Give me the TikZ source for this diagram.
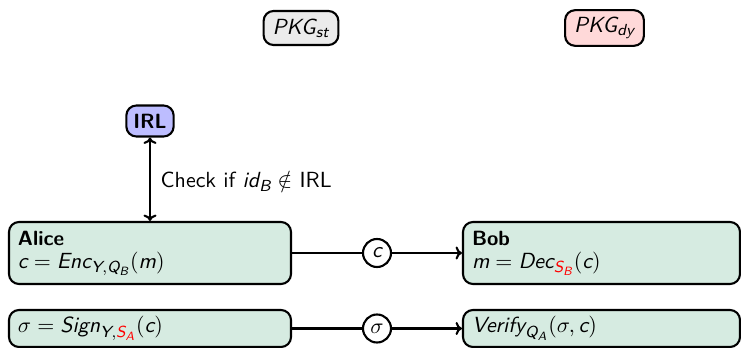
\documentclass[tikz,border=0pt]{standalone}
\usepackage{amsmath}
\usepackage{fontspec}
\usetikzlibrary{arrows.meta}

% sans italic letters for the formulas
\newcommand{\vi}[1]{\textsf{\itshape #1}}
% body size used in all nodes
\newcommand{\bodysize}{\fontsize{10.95}{11.5}\selectfont}
% party names, set a little smaller in bold
\newcommand{\who}[1]{{\fontsize{10.3}{11.5}\selectfont\bfseries #1}}

\definecolor{partyfill}{HTML}{D6EBE1}
\definecolor{stfill}{HTML}{EBEBEB}
\definecolor{dyfill}{HTML}{FFD9D9}
\definecolor{irlfill}{HTML}{BDBDFF}

\tikzset{
  base/.style={draw, line width=1.05pt, rounded corners=5pt, font=\sffamily\bodysize},
  pkg/.style={base, inner xsep=4.5pt, minimum height=17pt},
  party/.style={base, fill=partyfill, align=left, inner xsep=4.5pt, inner ysep=0pt,
                text width=132pt, minimum width=141pt},
  msg/.style={circle, draw, line width=1.05pt, fill=white, inner sep=0.5pt,
              minimum size=14pt, font=\sffamily\bodysize},
  tip/.tip={To[length=3.2pt,width=6.5pt]},
  link/.style={line width=1.05pt, -tip},
}

\begin{document}
\begin{tikzpicture}[x=0.5pt, y=-0.5pt]
  \useasboundingbox (0,0) rectangle (741,348);

  % key generation centres
  \node[pkg, fill=stfill] (pkgst) at (301,28) {$\vi{PKG}_{\vi{st}}$};
  \node[pkg, fill=dyfill] (pkgdy) at (604.5,28) {$\vi{PKG}_{\vi{dy}}$};

  % revocation list
  \node[base, fill=irlfill, inner xsep=3.5pt, minimum height=15.5pt] (irl) at (150,121) {\who{IRL}};

  % parties
  \node[party, minimum height=31pt] (alice) at (150,253)
    {\who{Alice}\\ $\vi{c} = \vi{Enc}_{\vi{Y},\vi{Q}_{\vi{B}}}(\vi{m})$};
  \node[party, text width=129.5pt, minimum width=138.5pt, minimum height=31pt] (bob) at (601.5,253)
    {\who{Bob}\\ $\vi{m} = \vi{Dec}_{\color{red}\vi{S}_{\vi{B}}}(\vi{c})$};
  \node[party, minimum height=18.5pt] (sign) at (150,328.5)
    {$\sigma = \vi{Sign}_{\vi{Y},\color{red}\vi{S}_{\vi{A}}}(\vi{c})$};
  \node[party, text width=129.5pt, minimum width=138.5pt, minimum height=18.5pt] (verify) at (601.5,328.5)
    {$\vi{Verify}_{\vi{Q}_{\vi{A}}}(\sigma,\vi{c})$};

  % revocation check
  \draw[line width=1.05pt, tip-tip] (irl) -- (alice)
    node[midway, right=1.5pt, yshift=-1pt, font=\sffamily\bodysize] (check) {Check if $\vi{id}_{\vi{B}} \notin$ IRL};

  % messages
  \draw[link] (alice) -- (bob) node[msg, midway] (cmsg) {$\vi{c}$};
  \draw[link] (sign) -- (verify) node[msg, midway] (smsg) {$\sigma$};
\end{tikzpicture}
\end{document}
